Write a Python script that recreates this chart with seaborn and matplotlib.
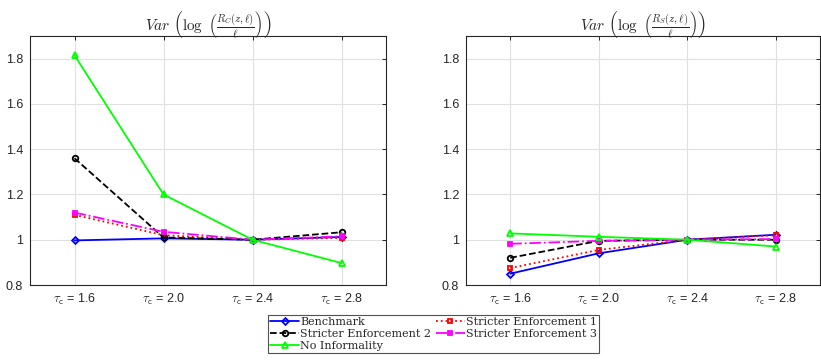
import matplotlib
matplotlib.use("Agg")
import matplotlib.pyplot as plt
import seaborn as sns
import pandas as pd

sns.set_style("white")
plt.rcParams['font.family'] = ['Liberation Sans', 'DejaVu Sans']
plt.rcParams['mathtext.fontset'] = 'cm'

categories = [r'$\tau_\mathsf{c}$ = 1.6', r'$\tau_\mathsf{c}$ = 2.0',
              r'$\tau_\mathsf{c}$ = 2.4', r'$\tau_\mathsf{c}$ = 2.8']
xpos = [1, 2, 3, 4]
series_names = ['Benchmark', 'Stricter Enforcement 1', 'Stricter Enforcement 2',
                'Stricter Enforcement 3', 'No Informality']

left_benchmark = [0.997, 1.006, 1.0, 1.012]
left_se1 = [1.110, 1.020, 1.0, 1.008]
left_se2 = [1.360, 1.010, 1.0, 1.033]
left_se3 = [1.120, 1.035, 1.0, 1.015]
left_noinf = [1.815, 1.200, 1.0, 0.897]

right_benchmark = [0.850, 0.940, 1.0, 1.022]
right_se1 = [0.875, 0.955, 1.0, 1.020]
right_se2 = [0.920, 0.995, 1.0, 1.000]
right_se3 = [0.982, 0.995, 1.0, 1.003]
right_noinf = [1.028, 1.013, 1.0, 0.970]

titles = [r'$Var\ \left(\log\ \left(\frac{R_C(z,\ell)}{\ell}\right)\right)$',
          r'$Var\ \left(\log\ \left(\frac{R_S(z,\ell)}{\ell}\right)\right)$']

styles = {
    'Benchmark': dict(color='#0000ff', ls='-', marker='D', ms=3.5),
    'Stricter Enforcement 1': dict(color='#ff0000', ls=':', marker='s', ms=3.5),
    'Stricter Enforcement 2': dict(color='#000000', ls='--', marker='o', ms=4),
    'Stricter Enforcement 3': dict(color='#ff00ff', ls='-.', marker='s', ms=3),
    'No Informality': dict(color='#00ff00', ls='-', marker='^', ms=5),
}

panels = [
    [left_benchmark, left_se1, left_se2, left_se3, left_noinf],
    [right_benchmark, right_se1, right_se2, right_se3, right_noinf],
]

W, H = 821, 364
fig = plt.figure(figsize=(W / 100, H / 100), dpi=100)
axes = [fig.add_axes([30 / W, 1 - 285 / H, 356 / W, 249 / H]),
        fig.add_axes([466 / W, 1 - 285 / H, 354 / W, 249 / H])]

handles = {}
for ax, vals, title in zip(axes, panels, titles):
    for name, v in zip(series_names, vals):
        df = pd.DataFrame({'x': xpos, 'y': v})
        st = styles[name]
        mfc = st['color'] if name == 'Stricter Enforcement 3' else 'none'
        sns.lineplot(data=df, x='x', y='y', ax=ax, color=st['color'],
                     linestyle=st['ls'], marker=st['marker'], markersize=st['ms'],
                     markerfacecolor=mfc, markeredgecolor=st['color'],
                     markeredgewidth=1.3, linewidth=1.3, label=name, legend=False)
        handles[name] = ax.lines[-1]
    ax.set_xlim(0.5, 4.5)
    ax.set_ylim(0.8, 1.9)
    ax.set_xticks(xpos)
    ax.set_xticklabels(categories)
    ax.set_yticks([0.8, 1.0, 1.2, 1.4, 1.6, 1.8])
    ax.set_yticklabels(['0.8', '1', '1.2', '1.4', '1.6', '1.8'])
    ax.set_xlabel('')
    ax.set_ylabel('')
    ax.grid(True, color='#e0e0e0', linewidth=0.8)
    ax.set_axisbelow(True)
    ax.tick_params(direction='in', length=3, top=True, right=True,
                   labelsize=9, colors='#262626', pad=5, width=0.7)
    for s in ax.spines.values():
        s.set_color('#262626')
        s.set_linewidth(0.8)
    ax.set_title(title, fontsize=11, pad=4)

order = ['Benchmark', 'Stricter Enforcement 2', 'No Informality',
         'Stricter Enforcement 1', 'Stricter Enforcement 3']
leg = fig.legend([handles[n] for n in order], order, ncol=2,
                 loc='upper left', bbox_to_anchor=(268 / W, 1 - 315 / H),
                 prop={'family': 'DejaVu Serif', 'size': 8},
                 frameon=True, fancybox=False, edgecolor='#262626',
                 borderpad=0.2, labelspacing=0.15, handlelength=2.6,
                 handletextpad=0.1, columnspacing=0.4, borderaxespad=0)
leg.get_frame().set_linewidth(0.8)

fig.savefig('out.png', dpi=100)
